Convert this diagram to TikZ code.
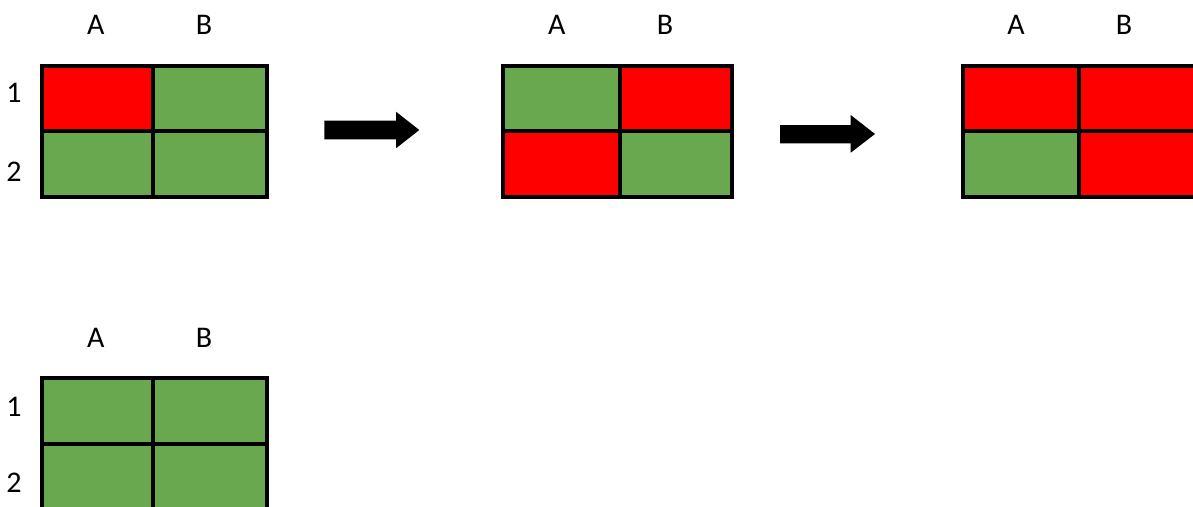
\documentclass[tikz,border=0pt]{standalone}
\usepackage{fontspec}
\setmainfont{Carlito}
\definecolor{cellgreen}{HTML}{6AA84F}
\definecolor{cellred}{HTML}{FF0000}
\begin{document}
\begin{tikzpicture}[x=1pt,y=-1pt,
  cell/.style={draw=black,line width=4pt,line join=miter},
  g/.style={cell,fill=cellgreen},
  r/.style={cell,fill=cellred},
  lbl/.style={inner sep=0pt,font=\fontsize{30}{34}\selectfont},
  blockarrow/.style={fill=black}]
\useasboundingbox[fill=white] (0,0) rectangle (1193,506);
% grid 1
\path[r] (42,65.7) rectangle (153.3,131);
\path[g] (153.3,65.7) rectangle (266.7,131);
\path[g] (42,131) rectangle (153.3,196.7);
\path[g] (153.3,131) rectangle (266.7,196.7);
\node[lbl] (g1A) at (95.7,25) {A};
\node[lbl] (g1B) at (204,25) {B};
\node[lbl] (g1r1) at (14,93) {1};
\node[lbl] (g1r2) at (14,172) {2};
% arrow 1
\path[blockarrow] (324.3,120.7) -- (396,120.7) -- (396,111.7) -- (419.3,130) -- (396,148.3) -- (396,139.3) -- (324.3,139.3) -- cycle;
% grid 2
\path[g] (502.7,65.7) rectangle (620,131);
\path[r] (620,65.7) rectangle (731.7,131);
\path[r] (502.7,131) rectangle (620,196.7);
\path[g] (620,131) rectangle (731.7,196.7);
\node[lbl] (g2A) at (556.7,25) {A};
\node[lbl] (g2B) at (665,25) {B};
% arrow 2
\path[blockarrow] (780,125) -- (850.7,125) -- (850.7,115) -- (875,134) -- (850.7,152.7) -- (850.7,143.3) -- (780,143.3) -- cycle;
% grid 3
\path[r] (963.3,65.7) rectangle (1079,131);
\path[r] (1079,65.7) rectangle (1197,131);
\path[g] (963.3,131) rectangle (1079,196.7);
\path[r] (1079,131) rectangle (1197,196.7);
\node[lbl] (g3A) at (1016,25) {A};
\node[lbl] (g3B) at (1124,25) {B};
% grid 4
\path[g] (42,378.3) rectangle (153.3,444.3);
\path[g] (153.3,378.3) rectangle (266.7,444.3);
\path[g] (42,444.3) rectangle (153.3,512);
\path[g] (153.3,444.3) rectangle (266.7,512);
\node[lbl] (g4A) at (95.7,338) {A};
\node[lbl] (g4B) at (204,338) {B};
\node[lbl] (g4r1) at (14,406.7) {1};
\node[lbl] (g4r2) at (14,483) {2};
\end{tikzpicture}
\end{document}
